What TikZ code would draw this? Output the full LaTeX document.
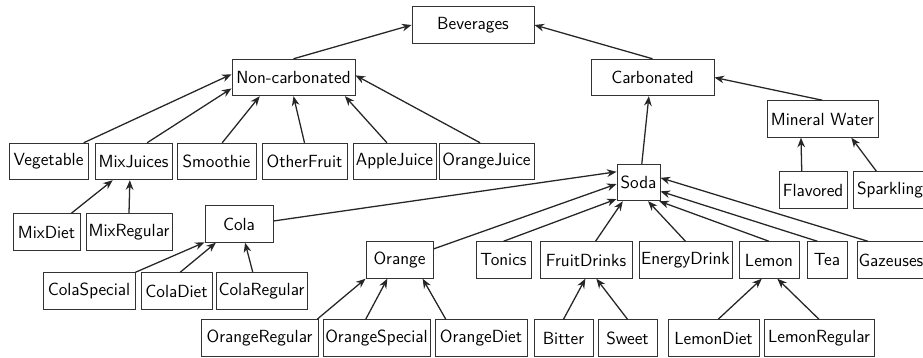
\documentclass[tikz,border=0pt]{standalone}
\usepackage{tikz}
\usetikzlibrary{arrows.meta}

\begin{document}
\begin{tikzpicture}[x=0.625pt, y=-0.625pt, >={Stealth[length=6pt, width=4.8pt]},
    box/.style={draw=black!80, line width=0.6pt, fill=white, font=\sffamily\fontsize{11}{13}\selectfont,
        inner xsep=1pt, inner ysep=0pt, minimum height=22.8pt},
    bw/.style={minimum width=#1*0.625pt},
    link/.style={->, line width=0.8pt, black!85}]
    \useasboundingbox (0,0) rectangle (923,358);

    % Root and first level
    \node[box, bw=122] (bev) at (473,25) {Beverages};
    \node[box, bw=123] (noncarb) at (293.5,77.5) {Non-carbonated};
    \node[box, bw=123] (carb) at (652.5,77.5) {Carbonated};

    % Non-carbonated children
    \node[box, bw=79] (veg) at (48.5,161.5) {Vegetable};
    \node[box, bw=77] (mixj) at (133.5,161.5) {MixJuices};
    \node[box, bw=79] (smooth) at (216.5,161.5) {Smoothie};
    \node[box, bw=85] (other) at (304.5,161.5) {OtherFruit};
    \node[box, bw=83] (apple) at (394.5,161.5) {AppleJuice};
    \node[box, bw=95] (orangej) at (486.5,161.5) {OrangeJuice};
    \node[box, bw=67] (mixdiet) at (46.5,232) {MixDiet};
    \node[box, bw=86] (mixreg) at (129,232) {MixRegular};

    % Carbonated children
    \node[box, bw=111] (mineral) at (822.5,119) {Mineral Water};
    \node[box, bw=43] (soda) at (638.5,182.5) {Soda};
    \node[box, bw=68] (flav) at (813,190) {Flavored};
    \node[box, bw=74] (spark) at (890,190) {Sparkling};

    % Soda children
    \node[box, bw=68] (cola) at (239,224) {Cola};
    \node[box, bw=67] (orange) at (399.5,260) {Orange};
    \node[box, bw=55] (tonics) at (503.5,260) {Tonics};
    \node[box, bw=92] (fruitd) at (586,260) {FruitDrinks};
    \node[box, bw=93] (energy) at (685.5,260) {EnergyDrink};
    \node[box, bw=60] (lemon) at (769,260) {Lemon};
    \node[box, bw=40] (tea) at (827,260) {Tea};
    \node[box, bw=68] (gaz) at (891,260) {Gazeuses};

    % Bottom rows
    \node[box, bw=92] (colasp) at (89,291) {ColaSpecial};
    \node[box, bw=71] (coladiet) at (176.5,291) {ColaDiet};
    \node[box, bw=91] (colareg) at (261.5,291) {ColaRegular};
    \node[box, bw=117] (orreg) at (259.5,338) {OrangeRegular};
    \node[box, bw=107] (orspec) at (376.5,338) {OrangeSpecial};
    \node[box, bw=92] (ordiet) at (481,338) {OrangeDiet};
    \node[box, bw=59] (bitter) at (563.5,338) {Bitter};
    \node[box, bw=59] (sweet) at (627.5,338) {Sweet};
    \node[box, bw=91] (lemdiet) at (713.5,338) {LemonDiet};
    \node[box, bw=110] (lemreg) at (819,338) {LemonRegular};

    % Links to the root
    \draw[link] (noncarb.north) -- (bev.west);
    \draw[link] (carb.north) -- (bev.east);

    % Links to Non-carbonated
    \draw[link] (veg.28) -- (noncarb.177);
    \draw[link] (mixj.54) -- (noncarb.190);
    \draw[link] (smooth.73) -- (noncarb.209);
    \draw[link] (other.north) -- (noncarb.south);
    \draw[link] (apple.112) -- (noncarb.340);
    \draw[link] (orangej.109) -- (noncarb.2);
    \draw[link] (mixdiet.37) -- (mixj.222);
    \draw[link] (mixreg.north) -- (mixj.259);

    % Links to Carbonated
    \draw[link] (mineral.north) -- (carb.east);
    \draw[link] (soda.80) -- (carb.259);
    \draw[link] (flav.121) -- (mineral.221);
    \draw[link] (spark.126) -- (mineral.327);

    % Links to Soda
    \draw[link] (cola.5) -- (soda.154);
    \draw[link] (orange.18) -- (soda.184);
    \draw[link] (tonics.north) -- (soda.217);
    \draw[link] (fruitd.63) -- (soda.230);
    \draw[link] (energy.north) -- (soda.297);
    \draw[link] (lemon.north) -- (soda.318);
    \draw[link] (tea.117) -- (soda.338);
    \draw[link] (gaz.141) -- (soda.12);

    % Links to the flavours
    \draw[link] (colasp.north east) -- (cola.208);
    \draw[link] (coladiet.79) -- (cola.219);
    \draw[link] (colareg.115) -- (cola.288);
    \draw[link] (orreg.18) -- (orange.south west);
    \draw[link] (orspec.120) -- (orange.237);
    \draw[link] (ordiet.152) -- (orange.321);
    \draw[link] (bitter.north) -- (fruitd.268);
    \draw[link] (sweet.north) -- (fruitd.299);
    \draw[link] (lemdiet.76) -- (lemon.249);
    \draw[link] (lemreg.north) -- (lemon.294);
\end{tikzpicture}
\end{document}
